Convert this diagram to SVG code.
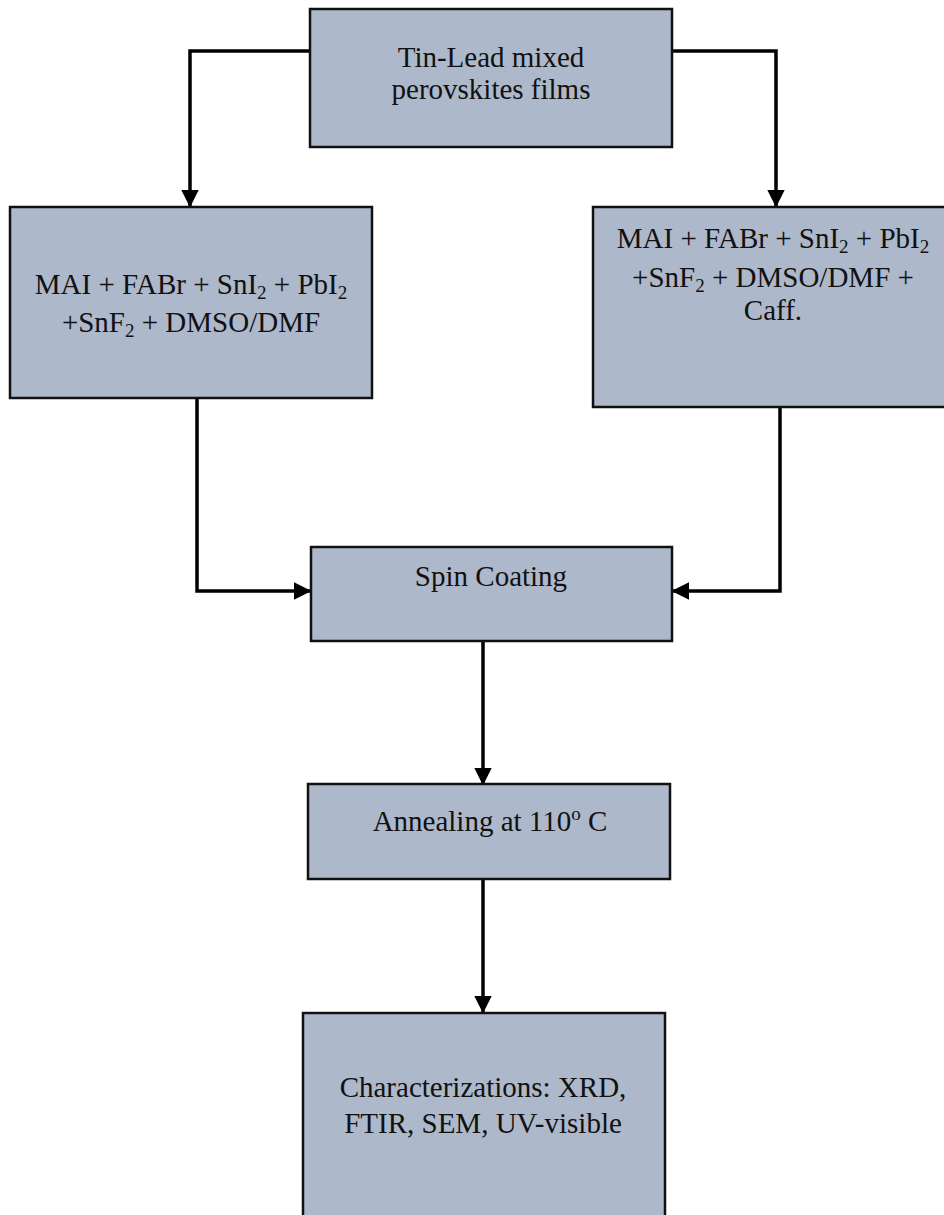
<svg xmlns="http://www.w3.org/2000/svg" width="944" height="1215" viewBox="0 0 944 1215">
<style>
.box{fill:#adb8ca;stroke:#111;stroke-width:2.5}
.t{font-family:"Liberation Serif","Times New Roman",serif;font-size:29px;fill:#111;text-anchor:middle}
.s{font-size:19px}
.c{fill:none;stroke:#000;stroke-width:3.5}
</style>
<defs>
<marker id="ah" markerWidth="5" markerHeight="5" refX="4.6" refY="2.5" orient="auto" markerUnits="strokeWidth" viewBox="0 0 5 5">
<path d="M0,0 L5,2.5 L0,5 Z" fill="#000"/>
</marker>
</defs>
<rect width="944" height="1215" fill="#fff"/>
<g id="connectors">
<path class="c" d="M310,51 H190 V206" marker-end="url(#ah)"/>
<path class="c" d="M672,51 H776 V206" marker-end="url(#ah)"/>
<path class="c" d="M197,398 V591 H310" marker-end="url(#ah)"/>
<path class="c" d="M780,407 V591 H673" marker-end="url(#ah)"/>
<path class="c" d="M483,641 V784" marker-end="url(#ah)"/>
<path class="c" d="M483,879 V1012" marker-end="url(#ah)"/>
</g>
<g id="top">
<rect class="box" x="310" y="9" width="362" height="138"/>
<text class="t" x="491" y="67">Tin-Lead mixed</text>
<text class="t" x="491" y="99">perovskites films</text>
</g>
<g id="left">
<rect class="box" x="10" y="207" width="362" height="191"/>
<text class="t" x="191" y="294">MAI + FABr + SnI<tspan class="s" dy="5">2</tspan><tspan dy="-5"> + PbI</tspan><tspan class="s" dy="5">2</tspan></text>
<text class="t" x="191" y="332">+SnF<tspan class="s" dy="5">2</tspan><tspan dy="-5"> + DMSO/DMF</tspan></text>
</g>
<g id="right">
<rect class="box" x="593" y="207" width="360" height="200"/>
<text class="t" x="773" y="248">MAI + FABr + SnI<tspan class="s" dy="5">2</tspan><tspan dy="-5"> + PbI</tspan><tspan class="s" dy="5">2</tspan></text>
<text class="t" x="773" y="287">+SnF<tspan class="s" dy="5">2</tspan><tspan dy="-5"> + DMSO/DMF +</tspan></text>
<text class="t" x="773" y="320">Caff.</text>
</g>
<g id="spin">
<rect class="box" x="311" y="547" width="361" height="94"/>
<text class="t" x="491" y="586">Spin Coating</text>
</g>
<g id="anneal">
<rect class="box" x="308" y="784" width="362" height="95"/>
<text class="t" x="490" y="831">Annealing at 110<tspan class="s" dy="-11">o</tspan><tspan dy="11"> C</tspan></text>
</g>
<g id="char">
<rect class="box" x="303" y="1013" width="362" height="215"/>
<text class="t" x="483" y="1097">Characterizations: XRD,</text>
<text class="t" x="483" y="1133">FTIR, SEM, UV-visible</text>
</g>
</svg>
